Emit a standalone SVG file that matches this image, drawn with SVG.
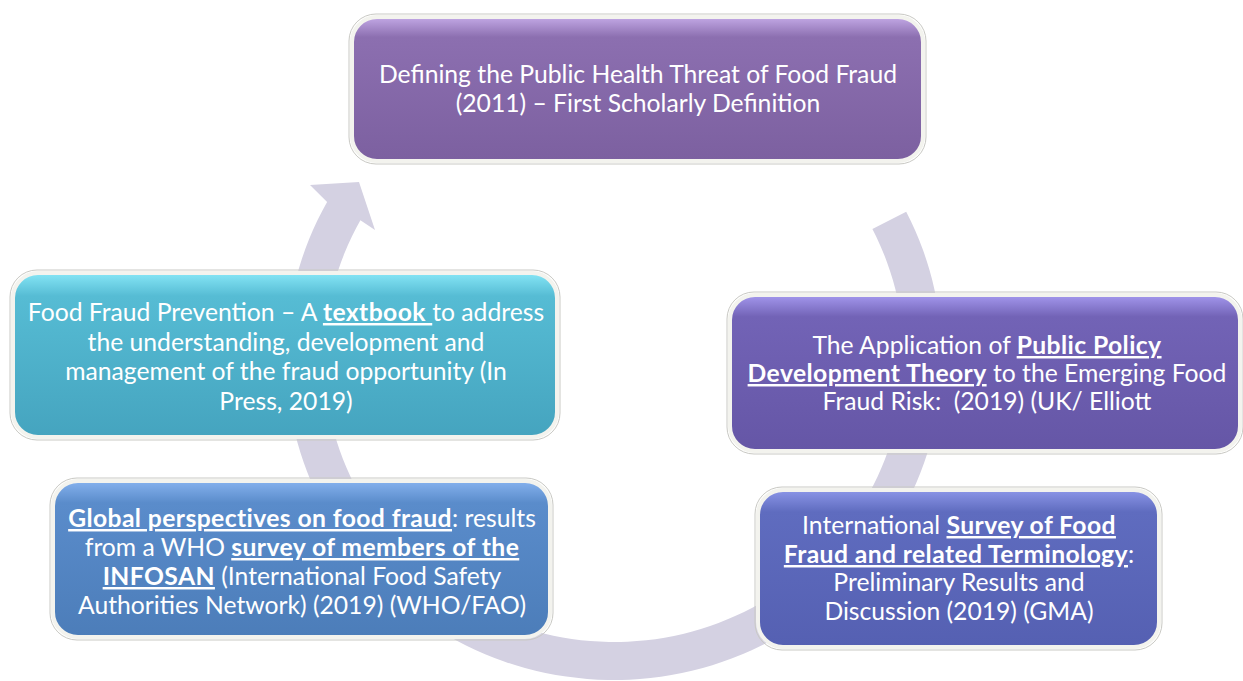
<svg xmlns="http://www.w3.org/2000/svg" width="1243" height="681" viewBox="0 0 1243 681">
<defs>
<linearGradient id="gTop" x1="0" y1="0" x2="0" y2="1">
<stop offset="0" stop-color="#c3a9e6"/><stop offset="0.14" stop-color="#8c6fb0"/><stop offset="1" stop-color="#7c60a0"/>
</linearGradient>
<linearGradient id="gTeal" x1="0" y1="0" x2="0" y2="1">
<stop offset="0" stop-color="#86e6f6"/><stop offset="0.14" stop-color="#56bcd4"/><stop offset="1" stop-color="#45a4bf"/>
</linearGradient>
<linearGradient id="gRight" x1="0" y1="0" x2="0" y2="1">
<stop offset="0" stop-color="#a498ee"/><stop offset="0.14" stop-color="#7263b6"/><stop offset="1" stop-color="#6556a6"/>
</linearGradient>
<linearGradient id="gBlue" x1="0" y1="0" x2="0" y2="1">
<stop offset="0" stop-color="#86b2ee"/><stop offset="0.14" stop-color="#5a8ccb"/><stop offset="1" stop-color="#4c7db9"/>
</linearGradient>
<linearGradient id="gBR" x1="0" y1="0" x2="0" y2="1">
<stop offset="0" stop-color="#8c96e8"/><stop offset="0.14" stop-color="#5f6cbf"/><stop offset="1" stop-color="#5560b2"/>
</linearGradient>
</defs>
<style>
.rim{fill:none;stroke:#c9c9c4;stroke-width:1}
.box{stroke:#f3f3ee;stroke-width:4}
.t{font-family:Lato,"Liberation Sans",sans-serif;font-size:24.7px;fill:#ffffff;text-anchor:middle;white-space:pre}
.b{font-weight:bold;text-decoration:underline;letter-spacing:0.4px}
.ring{fill:#d4d1e2}
</style>
<g id="connectors">
<path class="ring" d="M906.2 211.8 A328 322 0 1 1 327.1 201.9 L310 185 L359 182 L375 230 L360.4 220.3 A290 284 0 1 0 872.4 229.1 Z"/>
</g>
<g id="node-top">
<rect class="rim" x="349" y="14" width="577" height="150" rx="27"/>
<rect class="box" x="352" y="17" width="571" height="144" rx="25" fill="url(#gTop)"/>
<text class="t" x="638" y="83">Defining the Public Health Threat of Food Fraud</text>
<text class="t" x="638" y="112">(2011) – First Scholarly Definition</text>
</g>
<g id="node-textbook">
<rect class="rim" x="10" y="270" width="550" height="170" rx="27"/>
<rect class="box" x="13" y="273" width="544" height="164" rx="25" fill="url(#gTeal)"/>
<text class="t" x="286" y="321">Food Fraud Prevention – A <tspan class="b">textbook </tspan>to address</text>
<text class="t" x="286" y="351">the understanding, development and</text>
<text class="t" x="286" y="380">management of the fraud opportunity (In</text>
<text class="t" x="286" y="410">Press, 2019)</text>
</g>
<g id="node-policy">
<rect class="rim" x="727" y="292" width="516" height="162" rx="27"/>
<rect class="box" x="730" y="295" width="510" height="156" rx="25" fill="url(#gRight)"/>
<text class="t" x="987" y="354">The Application of <tspan class="b">Public Policy</tspan></text>
<text class="t" x="987" y="382"><tspan class="b">Development Theory</tspan> to the Emerging Food</text>
<text class="t" x="987" y="410">Fraud Risk:  (2019) (UK/ Elliott</text>
</g>
<g id="node-who">
<rect class="rim" x="50" y="478" width="503" height="162" rx="27"/>
<rect class="box" x="53" y="481" width="497" height="156" rx="25" fill="url(#gBlue)"/>
<text class="t" x="302" y="527"><tspan class="b">Global perspectives on food fraud</tspan>: results</text>
<text class="t" x="302" y="556">from a WHO <tspan class="b">survey of members of the</tspan></text>
<text class="t" x="302" y="585"><tspan class="b">INFOSAN</tspan> (International Food Safety</text>
<text class="t" x="302" y="614">Authorities Network) (2019) (WHO/FAO)</text>
</g>
<g id="node-gma">
<rect class="rim" x="755" y="487" width="407" height="163" rx="27"/>
<rect class="box" x="758" y="490" width="401" height="157" rx="25" fill="url(#gBR)"/>
<text class="t" x="959" y="534">International <tspan class="b">Survey of Food</tspan></text>
<text class="t" x="959" y="563"><tspan class="b">Fraud and related Terminology</tspan>:</text>
<text class="t" x="959" y="591">Preliminary Results and</text>
<text class="t" x="959" y="620">Discussion (2019) (GMA)</text>
</g>
</svg>
